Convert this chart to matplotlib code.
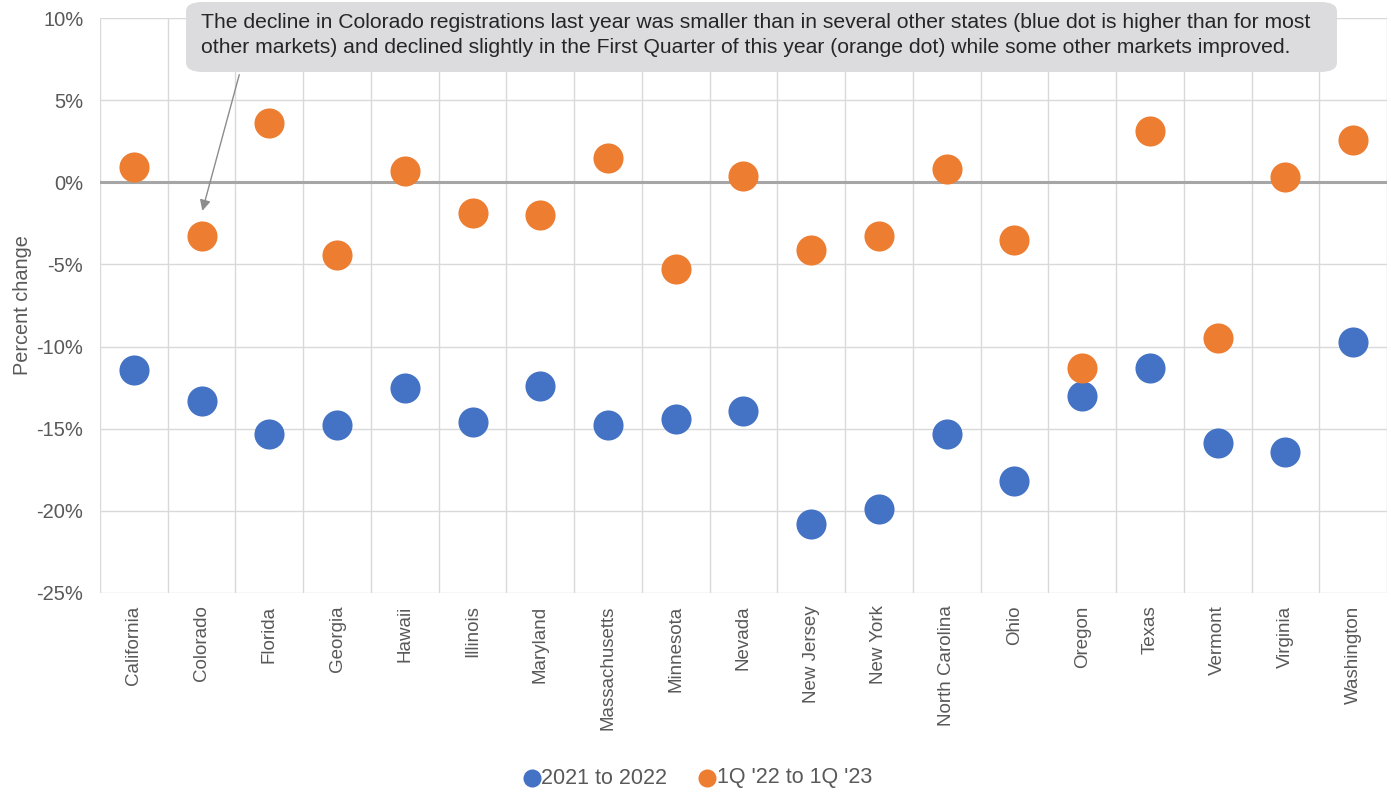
import matplotlib.pyplot as plt
import numpy as np
from matplotlib.patches import FancyBboxPatch

states = ["California", "Colorado", "Florida", "Georgia", "Hawaii", "Illinois",
          "Maryland", "Massachusetts", "Minnesota", "Nevada", "New Jersey",
          "New York", "North Carolina", "Ohio", "Oregon", "Texas", "Vermont",
          "Virginia", "Washington"]
yoy_2021_2022 = [-11.4, -13.3, -15.3, -14.8, -12.5, -14.6, -12.4, -14.8, -14.4,
                 -13.9, -20.8, -19.9, -15.3, -18.2, -13.0, -11.3, -15.9, -16.4, -9.7]
q1_22_to_q1_23 = [0.9, -3.3, 3.6, -4.4, 0.7, -1.9, -2.0, 1.5, -5.3,
                  0.4, -4.1, -3.3, 0.8, -3.5, -11.3, 3.1, -9.5, 0.3, 2.6]

blue = "#4472C4"
orange = "#ED7D31"
grey_txt = "#595959"

plt.rcParams['font.family'] = ['Liberation Sans', 'DejaVu Sans']

fig = plt.figure(figsize=(13.91, 7.93), dpi=100)
ax = fig.add_axes([100 / 1391, 1 - 593 / 793, 1287 / 1391, 575 / 793])

x = np.arange(len(states))
ax.scatter(x, yoy_2021_2022, s=470, color=blue, zorder=3, linewidths=0, label="2021 to 2022")
ax.scatter(x, q1_22_to_q1_23, s=470, color=orange, zorder=3, linewidths=0, label="1Q '22 to 1Q '23")

ax.set_xlim(-0.5, len(states) - 0.5)
ax.set_ylim(-25, 10)
ax.set_yticks(np.arange(-25, 11, 5))
ax.set_yticklabels([f"{v}%" for v in range(-25, 11, 5)])

# grid: horizontal at ticks, vertical at category boundaries
for v in range(-25, 11, 5):
    if v != 0:
        ax.axhline(v, color="#d9d9d9", lw=1, zorder=1)
for b in np.arange(-0.5, len(states), 1):
    ax.axvline(b, color="#d9d9d9", lw=1, zorder=1)
ax.axhline(0, color="#a6a6a6", lw=2.2, zorder=2)

for s in ax.spines.values():
    s.set_visible(False)

ax.set_xticks(x)
ax.set_xticklabels(states, rotation=90, fontsize=13.5, color=grey_txt)
ax.tick_params(axis="x", length=0, pad=9)
ax.tick_params(axis="y", length=0, pad=12, labelsize=14.5, colors=grey_txt)
ax.set_ylabel("Percent change", fontsize=14.3, color=grey_txt)
ax.yaxis.set_label_coords(-68 / 1287, 0.5)

# callout box
box = FancyBboxPatch((186 / 1391, 1 - 72 / 793), 1151 / 1391, 70 / 793,
                     boxstyle="round,pad=0,rounding_size=0.012",
                     transform=fig.transFigure, facecolor="#dcdcde",
                     edgecolor="none", zorder=5)
fig.patches.append(box)
fig.text(201 / 1391, 1 - 35 / 793,
         "The decline in Colorado registrations last year was smaller than in several other states (blue dot is higher than for most\n"
         "other markets) and declined slightly in the First Quarter of this year (orange dot) while some other markets improved.",
         fontsize=15.2, color="#262626", va="center", ha="left", linespacing=1.4, zorder=6)
ax.annotate("", xy=(1, -1.9), xycoords="data",
            xytext=(240 / 1391, 1 - 72 / 793), textcoords="figure fraction",
            arrowprops=dict(arrowstyle="-|>", color="#8c8c8c", lw=1, mutation_scale=16),
            zorder=4)

leg = fig.legend(loc="center", bbox_to_anchor=(697 / 1391, 1 - 778 / 793), ncol=2,
                 frameon=False, fontsize=15.5, handletextpad=0.0, columnspacing=1.4,
                 markerscale=0.6, handlelength=0.9)
for t in leg.get_texts():
    t.set_color(grey_txt)

fig.savefig("out.png", dpi=100)
